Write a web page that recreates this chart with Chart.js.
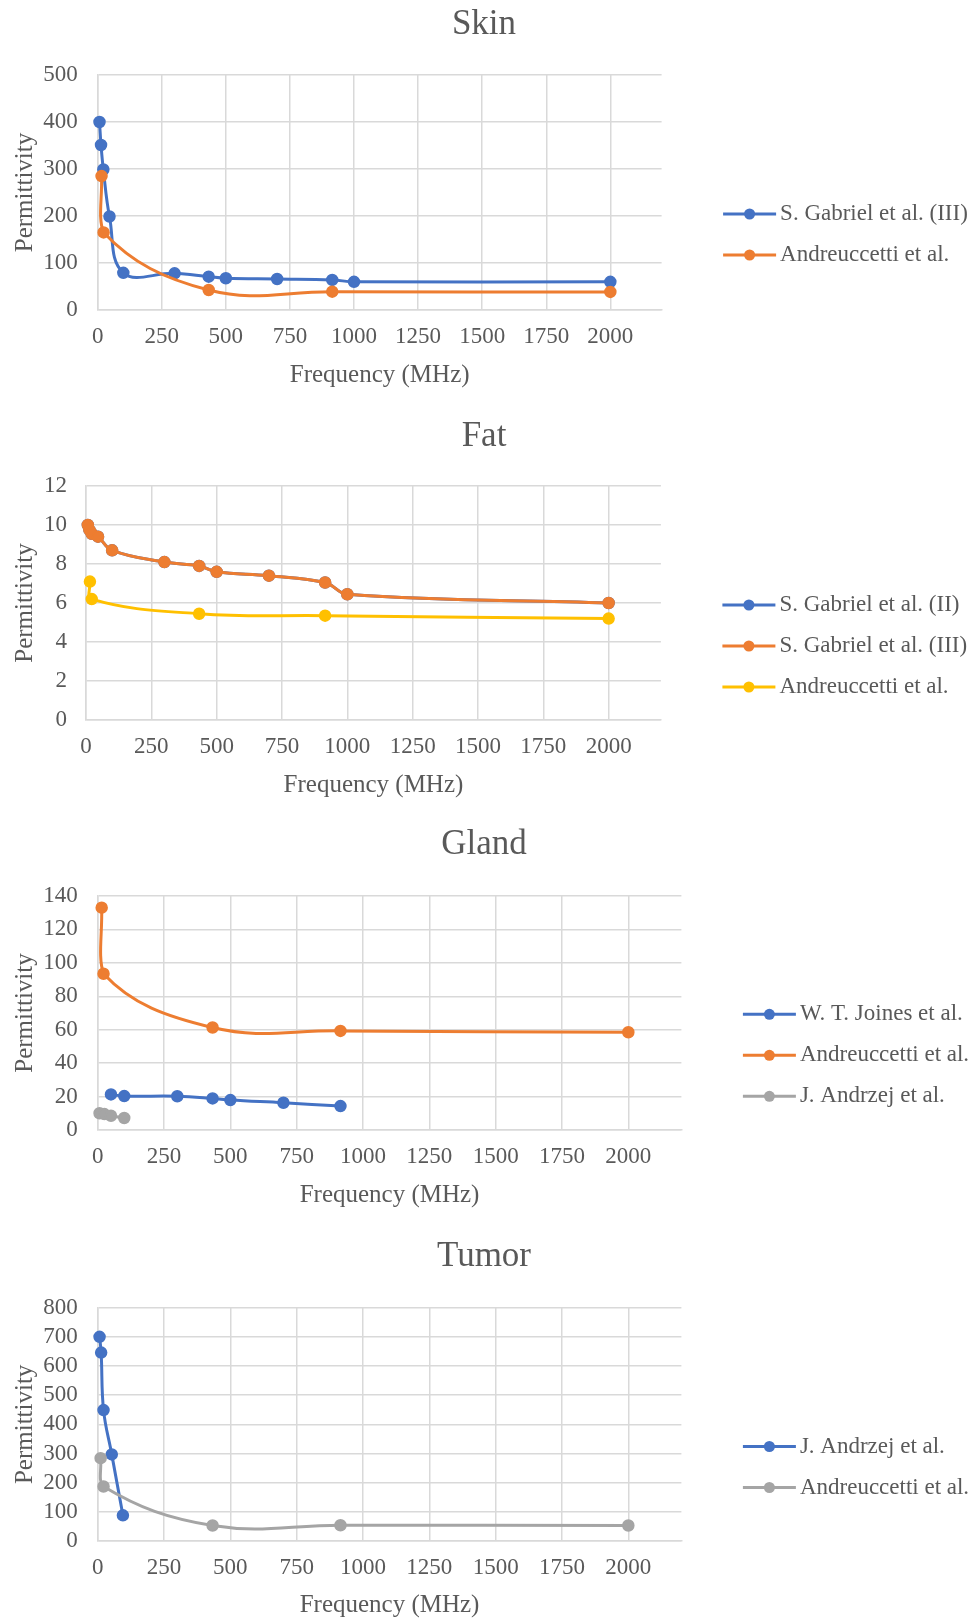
<!DOCTYPE html>
<html><head><meta charset="utf-8">
<script src="https://cdn.jsdelivr.net/npm/chart.js@4/dist/chart.umd.min.js"></script>
<style>html,body{margin:0;padding:0;background:#fff;}canvas{display:block;}</style>
</head><body>
<canvas id="skin" width="974" height="400"></canvas>
<canvas id="fat" width="974" height="408"></canvas>
<canvas id="gland" width="974" height="406"></canvas>
<canvas id="tumor" width="974" height="407"></canvas>
<script>
// ---------- data ----------
const xTickValues = [0, 250, 500, 750, 1000, 1250, 1500, 1750, 2000];

const skinYTicks = [0, 100, 200, 300, 400, 500];
const skinGabriel3Freq = [7, 13, 22, 46, 100, 300, 433, 500, 700, 915, 1000, 2000];
const skinGabriel3Perm = [400, 351, 299, 199, 79, 78, 71, 67.5, 66, 64, 60, 60];
const skinAndreuccettiFreq = [15, 23, 433, 915, 2000];
const skinAndreuccettiPerm = [285, 165, 42.5, 39, 38.5];

const fatYTicks = [0, 2, 4, 6, 8, 10, 12];
const fatGabriel2Freq = [7, 13, 22, 46, 100, 300, 433, 500, 700, 915, 1000, 2000];
const fatGabriel2Perm = [10.0, 9.75, 9.55, 9.4, 8.7, 8.1, 7.9, 7.6, 7.4, 7.05, 6.45, 6.0];
const fatGabriel3Freq = [7, 13, 22, 46, 100, 300, 433, 500, 700, 915, 1000, 2000];
const fatGabriel3Perm = [10.0, 9.75, 9.55, 9.4, 8.7, 8.1, 7.9, 7.6, 7.4, 7.05, 6.45, 6.0];
const fatAndreuccettiFreq = [15, 22, 433, 915, 2000];
const fatAndreuccettiPerm = [7.1, 6.2, 5.45, 5.35, 5.2];

const glandYTicks = [0, 20, 40, 60, 80, 100, 120, 140];
const glandJoinesFreq = [50, 100, 300, 433, 500, 700, 915];
const glandJoinesPerm = [21.3, 20.3, 20.2, 18.9, 17.9, 16.3, 14.3];
const glandAndreuccettiFreq = [15, 22, 433, 915, 2000];
const glandAndreuccettiPerm = [133, 93.5, 61.3, 59.3, 58.5];
const glandAndrzejFreq = [7, 25, 50, 100];
const glandAndrzejPerm = [10, 9.5, 8.5, 7.2];

const tumorYTicks = [0, 100, 200, 300, 400, 500, 600, 700, 800];
const tumorAndrzejFreq = [7, 13, 22, 53, 95];
const tumorAndrzejPerm = [700, 646, 449, 297, 88];
const tumorAndreuccettiFreq = [11, 22, 433, 915, 2000];
const tumorAndreuccettiPerm = [284, 187, 53, 54, 53];

// ---------- styles ----------
const BLUE = '#4472C4', ORANGE = '#ED7D31', GRAY = '#A5A5A5', GOLD = '#FFC000';
const TEXT = '#595959', GRID = '#d9d9d9';
const FONT = "'Liberation Serif', 'Times New Roman', serif";
const CANVAS_W = 974;
const RIGHT_PAD = 6;

// legend drawn to the right of the chart area, one row per dataset
const lineLegend = {
  id: 'lineLegend',
  afterDraw(chart, args, opts) {
    const {ctx, chartArea} = chart;
    ctx.save();
    chart.data.datasets.forEach((ds, i) => {
      const y = opts.firstY + i * opts.spacing;
      const x0 = chartArea.right + opts.offset;
      ctx.strokeStyle = ds.borderColor;
      ctx.lineWidth = 3;
      ctx.beginPath(); ctx.moveTo(x0, y); ctx.lineTo(x0 + 53, y); ctx.stroke();
      ctx.fillStyle = ds.borderColor;
      ctx.beginPath(); ctx.arc(x0 + 26.5, y, 5.5, 0, Math.PI * 2); ctx.fill();
      ctx.fillStyle = TEXT;
      ctx.font = '23px ' + FONT;
      ctx.textAlign = 'left'; ctx.textBaseline = 'middle';
      ctx.fillText(ds.label, x0 + 57, y);
    });
    ctx.restore();
  }
};

function makeChart(id, L, title, series, yTicks) {
  const cfg = {
    type: 'line',
    plugins: [lineLegend],
    data: {
      datasets: series.map((s, i) => ({
        label: s.label,
        data: s.x.map((x, k) => ({x: x, y: s.y[k]})),
        borderColor: s.color, backgroundColor: s.color,
        pointBackgroundColor: s.color, pointBorderColor: s.color,
        pointRadius: 5.5, pointBorderWidth: 1.5, borderWidth: 3,
        tension: 0.4, clip: false, fill: false,
        order: series.length - 1 - i,
        yAxisID: 'y'
      }))
    },
    options: {
      responsive: false, animation: false, devicePixelRatio: 1,
      layout: {padding: {left: 0, top: 0, bottom: 0, right: RIGHT_PAD}},
      plugins: {
        title: {
          display: true, text: title, color: TEXT,
          font: {family: FONT, size: 35, weight: 'normal', lineHeight: 1.2},
          padding: {top: L.titleCenter - 21, bottom: L.chartTop - (L.titleCenter - 21) - 42}
        },
        legend: {display: false},
        tooltip: {enabled: false},
        lineLegend: {firstY: L.legendY, spacing: 41, offset: 61.5}
      },
      scales: {
        x: {
          type: 'linear', min: 0, max: 2200,
          afterBuildTicks: s => { s.ticks = xTickValues.map(v => ({value: v})); },
          afterFit: s => { s.height = L.H - L.chartBottom; },
          grid: {color: GRID, lineWidth: 1.5, drawTicks: false},
          border: {color: GRID, width: 1.5},
          ticks: {padding: L.xTickPad, color: TEXT, font: {family: FONT, size: 23}, maxRotation: 0, autoSkip: false, callback: v => String(v)},
          title: {display: true, text: 'Frequency (MHz)', color: TEXT, font: {family: FONT, size: 25, lineHeight: 1.2}, padding: {top: 0, bottom: L.H - L.xTitle - 15}}
        },
        y: {
          type: 'linear', position: 'left', min: 0, max: yTicks[yTicks.length - 1],
          afterBuildTicks: s => { s.ticks = yTicks.map(v => ({value: v})); },
          afterFit: s => { s.width = L.left; },
          grid: {color: GRID, lineWidth: 1.5, drawTicks: false},
          border: {color: GRID, width: 1.5},
          ticks: {padding: L.yTickPad, color: TEXT, font: {family: FONT, size: 23}, autoSkip: false, callback: v => String(v)},
          title: {display: true, text: 'Permittivity', color: TEXT, font: {family: FONT, size: 25, lineHeight: 1.2}, padding: {top: 10.5, bottom: 0}}
        },
        legendSpace: {
          type: 'linear', position: 'right', display: true,
          grid: {display: false}, border: {display: false}, ticks: {display: false},
          afterFit: s => { s.width = CANVAS_W - RIGHT_PAD - L.right; }
        }
      }
    }
  };
  return new Chart(document.getElementById(id), cfg);
}

makeChart('skin',
  {H: 400, chartTop: 75, chartBottom: 310, left: 97.7, right: 661.6, titleCenter: 24.5, xTitle: 375, legendY: 214, xTickPad: 13.5, yTickPad: 20},
  'Skin',
  [
    {label: 'S. Gabriel et al. (III)', color: BLUE, x: skinGabriel3Freq, y: skinGabriel3Perm},
    {label: 'Andreuccetti et al.', color: ORANGE, x: skinAndreuccettiFreq, y: skinAndreuccettiPerm}
  ], skinYTicks);

makeChart('fat',
  {H: 408, chartTop: 86, chartBottom: 320, left: 86, right: 660.9, titleCenter: 36.5, xTitle: 385, legendY: 205, xTickPad: 13.5, yTickPad: 19},
  'Fat',
  [
    {label: 'S. Gabriel et al. (II)', color: BLUE, x: fatGabriel2Freq, y: fatGabriel2Perm},
    {label: 'S. Gabriel et al. (III)', color: ORANGE, x: fatGabriel3Freq, y: fatGabriel3Perm},
    {label: 'Andreuccetti et al.', color: GOLD, x: fatAndreuccettiFreq, y: fatAndreuccettiPerm}
  ], fatYTicks);

makeChart('gland',
  {H: 406, chartTop: 88, chartBottom: 322, left: 97.7, right: 681.4, titleCenter: 36.5, xTitle: 387, legendY: 206.3, xTickPad: 13.5, yTickPad: 20},
  'Gland',
  [
    {label: 'W. T. Joines et al.', color: BLUE, x: glandJoinesFreq, y: glandJoinesPerm},
    {label: 'Andreuccetti et al.', color: ORANGE, x: glandAndreuccettiFreq, y: glandAndreuccettiPerm},
    {label: 'J. Andrzej et al.', color: GRAY, x: glandAndrzejFreq, y: glandAndrzejPerm}
  ], glandYTicks);

makeChart('tumor',
  {H: 407, chartTop: 93.7, chartBottom: 327, left: 97.7, right: 681.4, titleCenter: 42.5, xTitle: 391, legendY: 232.5, xTickPad: 12.7, yTickPad: 20},
  'Tumor',
  [
    {label: 'J. Andrzej et al.', color: BLUE, x: tumorAndrzejFreq, y: tumorAndrzejPerm},
    {label: 'Andreuccetti et al.', color: GRAY, x: tumorAndreuccettiFreq, y: tumorAndreuccettiPerm}
  ], tumorYTicks);
</script>
</body></html>
